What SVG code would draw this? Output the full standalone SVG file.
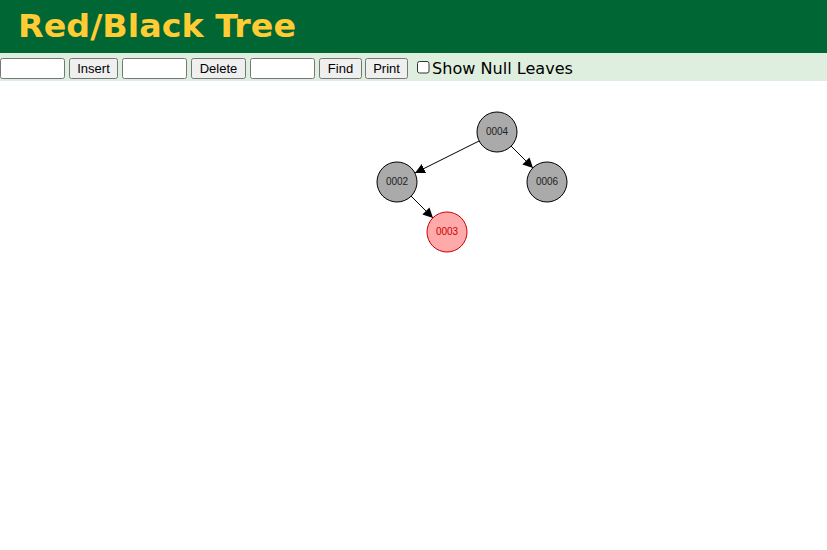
<svg xmlns="http://www.w3.org/2000/svg" width="827" height="550" viewBox="0 0 827 550">
<style>
.inp{fill:#ffffff;stroke:#767676;stroke-width:1}
.btn{fill:#efefef;stroke:#767676;stroke-width:1}
.bt{font-family:"Liberation Sans",Arial,sans-serif;font-size:13px;fill:#000;text-anchor:middle}
.blk circle{fill:#aaaaaa;stroke:#000;stroke-width:1}
.blk text{fill:#222;font-family:"Liberation Sans",Arial,sans-serif;font-size:10px;text-anchor:middle}
.red circle{fill:#ffaaaa;stroke:#cc0000;stroke-width:1}
.red text{fill:#cc0000;font-family:"Liberation Sans",Arial,sans-serif;font-size:10px;text-anchor:middle}
.edge{stroke:#000;stroke-width:1;fill:none;marker-end:url(#arr)}
</style>
<defs>
<marker id="arr" viewBox="0 0 10 10" refX="10" refY="5" markerWidth="10" markerHeight="10" markerUnits="userSpaceOnUse" orient="auto">
<path d="M0,0 L10,5 L0,10 z" fill="#000"/>
</marker>
</defs>
<rect x="0" y="0" width="827" height="550" fill="#ffffff"/>
<g id="header">
<rect x="0" y="0" width="827" height="53" fill="#006633"/>
<text x="18" y="36.5" font-family="'DejaVu Sans',Verdana,sans-serif" font-weight="bold" font-size="32" fill="#ffcc33" textLength="278" lengthAdjust="spacingAndGlyphs">Red/Black Tree</text>
</g>
<g id="toolbar">
<rect x="0" y="53" width="827" height="28" fill="#dfefdf"/>
<rect class="inp" x="0.5" y="58.5" width="64" height="20" rx="2"/>
<rect class="btn" x="69.5" y="58.5" width="48" height="20" rx="2"/>
<text class="bt" x="93.5" y="73">Insert</text>
<rect class="inp" x="122.5" y="58.5" width="64" height="20" rx="2"/>
<rect class="btn" x="191.5" y="58.5" width="54" height="20" rx="2"/>
<text class="bt" x="218.5" y="73">Delete</text>
<rect class="inp" x="250.5" y="58.5" width="64" height="20" rx="2"/>
<rect class="btn" x="319.5" y="58.5" width="42" height="20" rx="2"/>
<text class="bt" x="340.5" y="73">Find</text>
<rect class="btn" x="365.5" y="58.5" width="42" height="20" rx="2"/>
<text class="bt" x="386.5" y="73">Print</text>
<rect x="417.5" y="61.5" width="11.5" height="11.5" rx="2" fill="#fff" stroke="#333" stroke-width="1"/>
<text x="432" y="73.5" font-family="'DejaVu Sans',Verdana,sans-serif" font-size="16" fill="#000" textLength="141" lengthAdjust="spacingAndGlyphs">Show Null Leaves</text>
</g>
<g id="connectors">
<line class="edge" x1="479" y1="141" x2="415" y2="173"/>
<line class="edge" x1="511" y1="146" x2="533" y2="168"/>
<line class="edge" x1="411" y1="196" x2="433" y2="218"/>
</g>
<g id="n0004" class="blk"><circle cx="497" cy="132" r="20"/><text x="497" y="134.5">0004</text></g>
<g id="n0002" class="blk"><circle cx="397" cy="182" r="20"/><text x="397" y="184.5">0002</text></g>
<g id="n0006" class="blk"><circle cx="547" cy="182" r="20"/><text x="547" y="184.5">0006</text></g>
<g id="n0003" class="red"><circle cx="447" cy="232" r="20"/><text x="447" y="234.5">0003</text></g>
</svg>
